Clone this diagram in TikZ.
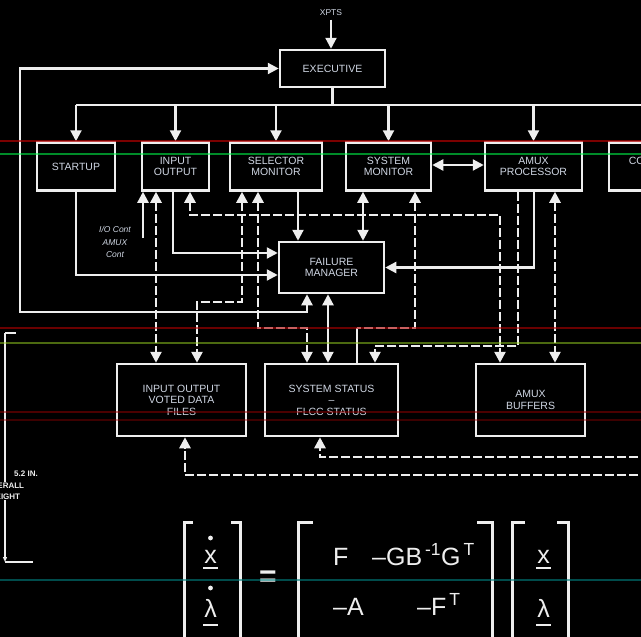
\documentclass[tikz,border=0pt]{standalone}
\usepackage{fontspec}
\setmainfont{Liberation Sans}
\usetikzlibrary{arrows.meta}
\definecolor{linha}{RGB}{238,238,238}
\definecolor{rotulo}{RGB}{208,215,228}
\tikzset{
  caixa/.style={draw=linha, line width=2.5pt, fill=black, text=rotulo, align=center,
    inner sep=0pt, font=\fontsize{10.5}{11.5}\selectfont},
  fio/.style={draw=linha, line width=2.3pt},
  tracejado/.style={draw=linha, line width=2.6pt, dash pattern=on 9pt off 3pt},
  colchete/.style={draw=linha, line width=3pt},
  eq/.style={text=linha, font=\fontsize{25}{28}\selectfont, inner sep=0pt},
  cota/.style={fill=black, text=linha, align=center, inner sep=1pt,
    font=\fontsize{8}{10.5}\selectfont\bfseries},
}
\begin{document}
\begin{tikzpicture}[x=1pt, y=-1pt, >={Triangle[length=11pt,width=11pt]}]
  \fill[black] (0,0) rectangle (641,637);
  \useasboundingbox (0,0) rectangle (641,637);
  \clip (0,0) rectangle (641,637);
  % Caixas
  \node[caixa, minimum width=105pt, minimum height=37pt] (exec) at (332.5,68.5) {EXECUTIVE};
  \node[caixa, minimum width=78pt, minimum height=48pt] (startup) at (76,166.5) {STARTUP};
  \node[caixa, minimum width=67pt, minimum height=48pt] (io) at (175.5,166.5) {INPUT\\OUTPUT};
  \node[caixa, minimum width=92pt, minimum height=48pt] (sel) at (276,166.5) {SELECTOR\\MONITOR};
  \node[caixa, minimum width=85pt, minimum height=48pt] (sysmon) at (388.5,166.5) {SYSTEM\\MONITOR};
  \node[caixa, minimum width=97pt, minimum height=48pt] (amuxp) at (533.5,166.5) {AMUX\\PROCESSOR};
  \node[caixa, minimum width=91pt, minimum height=48pt] (ctrl) at (654.5,166.5) {CONTROL\\LAW};
  \node[caixa, minimum width=105pt, minimum height=51pt] (fm) at (331.5,267.5) {FAILURE\\MANAGER};
  \node[caixa, minimum width=129pt, minimum height=72pt] (iovdf) at (181.5,400) {INPUT OUTPUT\\VOTED DATA\\FILES};
  \node[caixa, minimum width=133pt, minimum height=72pt] (ss) at (331.5,400) {SYSTEM STATUS\\--\\FLCC STATUS};
  \node[caixa, minimum width=109pt, minimum height=72pt] (amuxb) at (530.5,400) {AMUX\\BUFFERS};
  \node[text=rotulo, font=\fontsize{8.5}{10}\selectfont] (xpts) at (331,13) {XPTS};
  \node[text=rotulo, align=center, font=\fontsize{8.5}{12.5}\selectfont\itshape] (ioctl) at (115,242) {I/O Cont\\AMUX\\Cont};
  % Barramento do executivo
  \coordinate (bus) at (0,105);
  \draw[fio,->] (xpts.south) -- (xpts.south |- exec.north);
  \draw[fio] (exec.south) -- (exec.south |- bus);
  \draw[fio] (startup.north |- bus) -- (ctrl.north |- bus);
  \foreach \b in {startup,io,sel,sysmon,amuxp,ctrl}
    \draw[fio,->] (\b.north |- bus) -- (\b.north);
  % Ligacoes continuas
  \draw[fio,<->] (exec.west) -| (20,312) -| (307,0 |- fm.south);
  \draw[fio,->] (startup.south) |- (fm.west |- 0,275);
  \draw[fio,->] (173,0 |- io.south) |- (fm.west |- 0,253);
  \coordinate (iocont) at (143,238);
  \draw[fio,->] (iocont) -- (iocont |- io.south);
  \draw[fio,->] (298,0 |- sel.south) -- (298,0 |- fm.north);
  \draw[fio,<->] (363,0 |- sysmon.south) -- (363,0 |- fm.north);
  \draw[fio,<->] (328,0 |- fm.south) -- (328,0 |- ss.north);
  \draw[fio,<->] (sysmon.east |- 0,165) -- (amuxp.west |- 0,165);
  \draw[fio,->] (534,0 |- amuxp.south) |- (fm.east);
  % Ligacoes tracejadas
  \draw[tracejado,<->] (156,0 |- io.south) -- (156,0 |- iovdf.north);
  \draw[tracejado,<->] (190,0 |- io.south) |- (500,215) -- (500,0 |- amuxb.north);
  \draw[tracejado,<->] (242,0 |- sel.south) |- (197,302) -- (197,0 |- iovdf.north);
  \draw[tracejado,<->] (258,0 |- sel.south) |- (307,328) -- (307,0 |- ss.north);
  \coordinate (sstap) at (357,328);
  \draw[tracejado,<-] (415,0 |- sysmon.south) |- (sstap);
  \draw[fio] (sstap) -- (sstap |- ss.north);
  \draw[tracejado,->] (518,0 |- amuxp.south) |- (375,346) -- (375,0 |- ss.north);
  \draw[tracejado,<->] (555,0 |- amuxp.south) -- (555,0 |- amuxb.north);
  \draw[tracejado,->] (650,457) -| (320,0 |- ss.south);
  \draw[tracejado,->] (650,475) -| (185,0 |- iovdf.south);
  % Cota de altura
  \coordinate (dimtop) at (5,333);
  \coordinate (dimbot) at (5,562);
  \draw[linha, line width=1.2pt, -{Triangle[length=5pt,width=4pt]}] (dimtop) -- (dimbot);
  \draw[linha, line width=1.2pt] (dimtop) -- (16,333);
  \draw[linha, line width=1.2pt] (dimbot) -- (33,562);
  \node[cota, anchor=east] (dimval) at (39,474) {5.2 IN.};
  \node[cota] (dimtxt) at (5,491) {OVERALL\\HEIGHT};
  % Equacao
  \draw[colchete] (193,522) -- (184,522) -- (184,645);
  \draw[colchete] (231,522) -- (240,522) -- (240,645);
  \draw[colchete] (313,522) -- (298,522) -- (298,645);
  \draw[colchete] (477,522) -- (492,522) -- (492,645);
  \draw[colchete] (525,522) -- (512,522) -- (512,645);
  \draw[colchete] (557,522) -- (568,522) -- (568,645);
  \node[eq, anchor=base] (xdot) at (210.5,563) {x};
  \node[eq, anchor=base] (ldot) at (210.5,617) {λ};
  \fill[linha] (210.5,538) circle (2.4);
  \fill[linha] (210.5,588) circle (2.4);
  \draw[linha, line width=1.6pt] (203,568) -- (218,568);
  \draw[linha, line width=1.6pt] (203,625) -- (218,625);
  \node[eq, font=\fontsize{30}{30}\selectfont\bfseries] (igual) at (268,579) {=};
  \node[eq, anchor=base west] (mf) at (333,565) {F};
  \node[eq, anchor=base west] (mg) at (372,565) {–GB\textsuperscript{\,-1}G\textsuperscript{\,T}};
  \node[eq, anchor=base west] (ma) at (333,615) {–A};
  \node[eq, anchor=base west] (mft) at (417,615) {–F\textsuperscript{\,T}};
  \node[eq, anchor=base] (xv) at (543.5,563) {x};
  \node[eq, anchor=base] (lv) at (543.5,617) {λ};
  \draw[linha, line width=1.6pt] (536,568) -- (551,568);
  \draw[linha, line width=1.6pt] (536,625) -- (551,625);
  % Riscos de varredura
  \draw[red!70!black, line width=1.5pt, opacity=0.7] (0,141) -- (641,141);
  \draw[green!70!cyan, line width=1.2pt, opacity=0.55] (0,154) -- (641,154);
  \draw[red!70!black, line width=1.5pt, opacity=0.6] (0,328) -- (641,328);
  \draw[yellow!60!green, line width=1.2pt, opacity=0.5] (0,343) -- (641,343);
  \draw[red!60!black, line width=1.2pt, opacity=0.5] (0,412) -- (641,412);
  \draw[red!60!black, line width=1.2pt, opacity=0.4] (0,420) -- (641,420);
  \draw[teal, line width=1.2pt, opacity=0.6] (0,580) -- (641,580);
\end{tikzpicture}
\end{document}
